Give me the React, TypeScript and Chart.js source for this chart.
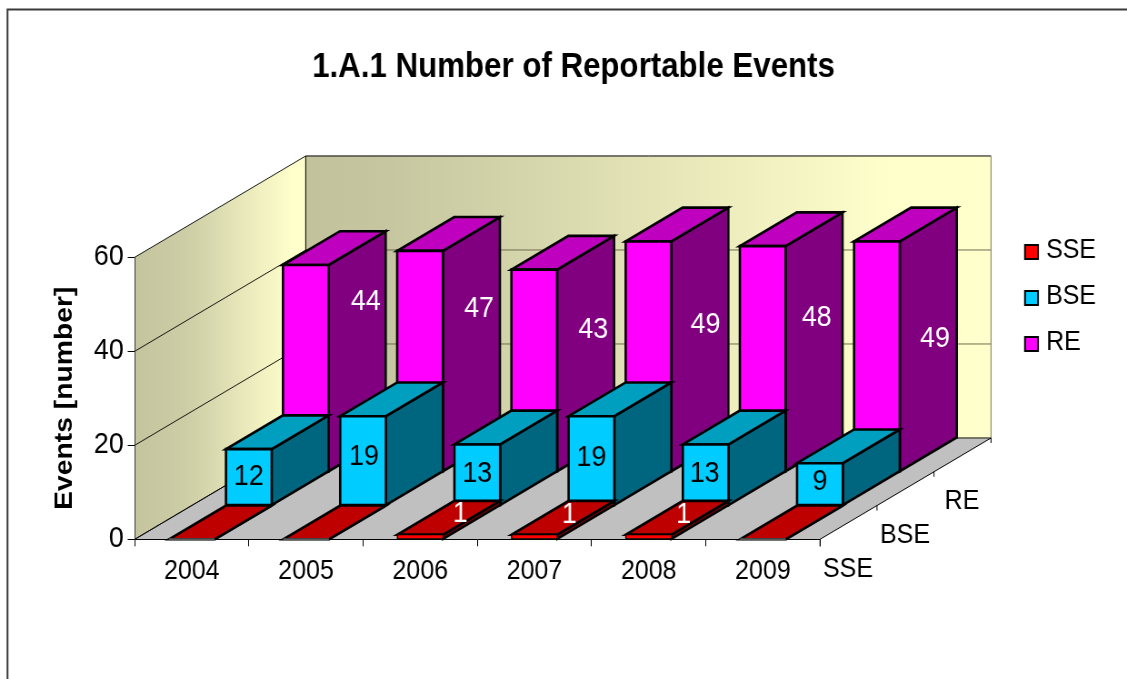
import React, { useEffect, useRef } from "react";
import { Chart, registerables } from "chart.js";

Chart.register(...registerables);

const years = ["2004", "2005", "2006", "2007", "2008", "2009"];
const sseValues = [0, 0, 1, 1, 1, 0];
const bseValues = [12, 19, 13, 19, 13, 9];
const reValues = [44, 47, 43, 49, 48, 49];
const seriesNames = ["SSE", "BSE", "RE"];

const frontColors = ["#FF0000", "#00CCFF", "#FF00FF"];
const topColors = ["#BF0000", "#009FC0", "#BF00BF"];
const sideColors = ["#800000", "#006680", "#800080"];
const labelColors = ["#FFFFFF", "#000000", "#FFFFFF"];

// Hand-placed value label offsets from the centre of each bar's front face.
const labelNudges = [
  [[0, 0], [0, 0], [40, -23], [35, -22], [35, -22], [0, 0]],
  [[0, 0], [1, -3.5], [0, -1], [0, -3], [-1, -1], [0, -2]],
  [[60, -66], [59, -52], [59, -41], [57, -31], [54, -41], [58, -17]],
];

// The chart is laid out on a wider canvas and condensed horizontally by CSS,
// which gives the tall, narrow lettering; X() converts page pixels to canvas pixels.
const PAGE_W = 1127;
const PAGE_H = 679;
const CANVAS_W = 1240;
const K = CANVAS_W / PAGE_W;
const X = (v: number) => v * K;

// Oblique projection: screen shift of one series row into the depth of the scene.
const ROW_DX = X(57);
const ROW_DY = -33.77;
const ROWS = 3;
const FONT = '"Liberation Sans", Arial, sans-serif';
const TEXT_SIZE = 27.5;
const VALUE_SIZE = 29.5;
const EDGE = 2.6;

type Pt = [number, number];

function poly(ctx: CanvasRenderingContext2D, pts: Pt[], fill: string | CanvasGradient | null, stroke: string | null, lw = EDGE) {
  ctx.beginPath();
  pts.forEach((p, i) => (i ? ctx.lineTo(p[0], p[1]) : ctx.moveTo(p[0], p[1])));
  ctx.closePath();
  if (fill) {
    ctx.fillStyle = fill;
    ctx.fill();
  }
  if (stroke) {
    ctx.lineWidth = lw;
    ctx.strokeStyle = stroke;
    ctx.lineJoin = "miter";
    ctx.stroke();
  }
}

function line(ctx: CanvasRenderingContext2D, a: Pt, b: Pt, color: string, lw = 1) {
  ctx.beginPath();
  ctx.moveTo(a[0], a[1]);
  ctx.lineTo(b[0], b[1]);
  ctx.lineWidth = lw;
  ctx.strokeStyle = color;
  ctx.stroke();
}

const scenePlugin = {
  id: "scene3d",
  afterLayout(chart: any) {
    // The heading sits a little right of the canvas centre.
    chart.titleBlock.left = X(20);
    chart.titleBlock.right = chart.width;
  },
  beforeDraw(chart: any) {
    const { ctx, chartArea: a, scales } = chart;
    const y = scales.y;
    const dx = ROW_DX * ROWS;
    const dy = ROW_DY * ROWS;
    ctx.save();
    ctx.fillStyle = "#FFFFFF";
    ctx.fillRect(0, 0, chart.width, chart.height);
    ctx.strokeStyle = "#3a3a3a";
    ctx.lineWidth = 2;
    ctx.strokeRect(X(7.5), 9.5, 1600, 1000);

    const leftWall = ctx.createLinearGradient(a.left, 0, a.left + dx, 0);
    leftWall.addColorStop(0, "#C4C49E");
    leftWall.addColorStop(0.3, "#CDCDA6");
    leftWall.addColorStop(0.92, "#FFFFCC");
    const backWall = ctx.createLinearGradient(a.left + dx, 0, a.right + dx, 0);
    backWall.addColorStop(0, "#C2C29C");
    backWall.addColorStop(0.12, "#C6C6A0");
    backWall.addColorStop(0.85, "#FFFFCC");

    poly(ctx, [[a.left, a.top], [a.left + dx, a.top + dy], [a.left + dx, a.bottom + dy], [a.left, a.bottom]], leftWall, null);
    poly(ctx, [[a.left + dx, a.top + dy], [a.right + dx, a.top + dy], [a.right + dx, a.bottom + dy], [a.left + dx, a.bottom + dy]], backWall, null);
    poly(ctx, [[a.left, a.bottom], [a.right, a.bottom], [a.right + dx, a.bottom + dy], [a.left + dx, a.bottom + dy]], "#C0C0C0", null);

    for (const t of y.ticks) {
      const py = y.getPixelForValue(t.value);
      line(ctx, [a.left, py], [a.left + dx, py + dy], "#000000", 0.9);
      if (t.value < 60) line(ctx, [a.left + dx, py + dy], [a.right + dx, py + dy], "#6E6E52", 1);
    }
    line(ctx, [a.left + dx, a.top + dy], [a.right + dx, a.top + dy], "#000000", 1);
    line(ctx, [a.left + dx, a.top + dy], [a.left + dx, a.bottom + dy], "#000000", 1);
    line(ctx, [a.right + dx, a.top + dy], [a.right + dx, a.bottom + dy], "#808068", 1);
    line(ctx, [a.left, a.bottom], [a.left + dx, a.bottom + dy], "#000000", 0.9);
    line(ctx, [a.left + dx, a.bottom + dy], [a.right + dx, a.bottom + dy], "#404040", 0.9);
    ctx.restore();
  },
  beforeDatasetsDraw(chart: any) {
    const { ctx } = chart;
    ctx.save();
    // Back row first so the nearer rows overlap it.
    for (let row = ROWS - 1; row >= 0; row--) {
      const ox = ROW_DX * row;
      const oy = ROW_DY * row;
      chart.getDatasetMeta(row).data.forEach((bar: any) => {
        const { x, y, base, width } = bar.getProps(["x", "y", "base", "width"], true);
        const l = x - width / 2 + ox;
        const r = x + width / 2 + ox;
        const t = y + oy;
        const b = base + oy;
        const h = b - t;
        poly(ctx, [[r, t], [r + ROW_DX, t + ROW_DY], [r + ROW_DX, b + ROW_DY], [r, b]], sideColors[row], "#000000");
        poly(ctx, [[l, t], [l + ROW_DX, t + ROW_DY], [r + ROW_DX, t + ROW_DY], [r, t]], topColors[row], "#000000");
        // Very short fronts get a finer edge so their colour still shows.
        if (h > 0.5) poly(ctx, [[l, t], [r, t], [r, b], [l, b]], frontColors[row], "#000000", h < 8 ? 1.3 : EDGE);
        else line(ctx, [l, b], [r, b], "#5a5a5a", 2);
      });
    }
    // Value labels, left out where a value is zero.
    ctx.font = `${VALUE_SIZE}px ${FONT}`;
    ctx.textAlign = "center";
    ctx.textBaseline = "middle";
    for (let row = 0; row < ROWS; row++) {
      const values = chart.data.datasets[row].data;
      chart.getDatasetMeta(row).data.forEach((bar: any, i: number) => {
        if (!values[i]) return;
        const { x, y, base } = bar.getProps(["x", "y", "base"], true);
        const [nx, ny] = labelNudges[row][i];
        ctx.fillStyle = labelColors[row];
        ctx.fillText(String(values[i]), x + ROW_DX * row + X(nx), (y + base) / 2 + ROW_DY * row + ny);
      });
    }
    ctx.restore();
    return false;
  },
  afterDraw(chart: any) {
    const { ctx, chartArea: a } = chart;
    ctx.save();
    // Depth axis along the right edge of the floor.
    line(ctx, [a.right, a.bottom], [a.right + ROW_DX * ROWS, a.bottom + ROW_DY * ROWS], "#000000", 1);
    ctx.font = `${TEXT_SIZE}px ${FONT}`;
    ctx.textAlign = "center";
    ctx.textBaseline = "middle";
    ctx.fillStyle = "#000000";
    for (let row = 0; row <= ROWS; row++) {
      const px = a.right + ROW_DX * row;
      const py = a.bottom + ROW_DY * row;
      line(ctx, [px, py], [px, py + (row === 0 ? 7 : 5)], "#000000", 1);
      if (row < ROWS) ctx.fillText(seriesNames[row], px + X(28), py + 30);
    }
    // Legend column to the right of the scene.
    ctx.textAlign = "left";
    chart.data.datasets.forEach((ds: any, i: number) => {
      const top = 245 + i * 46;
      ctx.fillStyle = ds.backgroundColor;
      ctx.strokeStyle = "#000000";
      ctx.lineWidth = 2;
      ctx.fillRect(X(1025), top, X(13), 14);
      ctx.strokeRect(X(1025), top, X(13), 14);
      ctx.fillStyle = "#000000";
      ctx.fillText(ds.label, X(1046), top + 5);
    });
    ctx.restore();
  },
};

export default function App() {
  const ref = useRef<HTMLCanvasElement>(null);
  useEffect(() => {
    const series = [sseValues, bseValues, reValues];
    const chart = new Chart(ref.current!, {
      type: "bar",
      data: {
        labels: years,
        datasets: series.map((data, i) => ({
          label: seriesNames[i],
          data,
          backgroundColor: frontColors[i],
          grouped: false,
          categoryPercentage: 0.4,
          barPercentage: 1,
        })),
      },
      plugins: [scenePlugin],
      options: {
        responsive: false,
        animation: false,
        layout: { padding: { left: 54, right: X(307), top: 0, bottom: 0 } },
        plugins: {
          legend: { display: false },
          tooltip: { enabled: false },
          title: {
            display: true,
            text: "1.A.1 Number of Reportable Events",
            color: "#000000",
            font: { family: FONT, size: 34.4, weight: "bold", lineHeight: 1.2 },
            padding: { top: 46.4, bottom: 169.6 },
          },
        },
        scales: {
          x: {
            afterFit: (s: any) => {
              s.height = 139.7;
            },
            grid: { drawOnChartArea: false, tickLength: 7, tickColor: "#000000", tickWidth: 1 },
            border: { color: "#000000", width: 1 },
            ticks: { color: "#000000", font: { family: FONT, size: TEXT_SIZE }, padding: 9, maxRotation: 0, minRotation: 0 },
          },
          y: {
            min: 0,
            max: 60,
            afterFit: (s: any) => {
              s.width = X(134.7) - 54;
            },
            grid: { drawOnChartArea: false, tickLength: X(7), tickColor: "#000000", tickWidth: 1 },
            border: { color: "#333333", width: 1 },
            ticks: { stepSize: 20, color: "#000000", font: { family: FONT, size: VALUE_SIZE }, padding: X(4) },
            title: {
              display: true,
              text: "Events [number]",
              color: "#000000",
              font: { family: FONT, size: 28.3, weight: "bold", lineHeight: 1.2 },
              padding: 0,
            },
          },
        },
      },
    } as any);
    return () => chart.destroy();
  }, []);
  return (
    <div style={{ position: "absolute", left: 0, top: 0, width: PAGE_W, height: PAGE_H, overflow: "hidden" }}>
      <canvas
        ref={ref}
        width={CANVAS_W}
        height={PAGE_H}
        style={{ display: "block", transform: `scaleX(${1 / K})`, transformOrigin: "0 0" }}
      />
    </div>
  );
}
